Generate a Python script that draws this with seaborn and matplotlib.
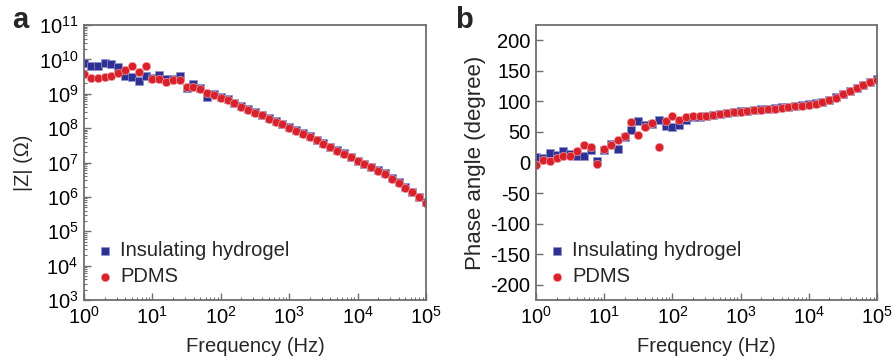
import numpy as np
import pandas as pd
import matplotlib
matplotlib.use("Agg")
import matplotlib.pyplot as plt
import matplotlib.ticker as mticker
import seaborn as sns

# ---- data ----
freq = [1.0, 1.26, 1.58, 2.0, 2.51, 3.16, 3.98, 5.01, 6.31, 7.94,
        10.0, 12.6, 15.8, 20.0, 25.1, 31.6, 39.8, 50.1, 63.1, 79.4,
        100.0, 126, 158, 200, 251, 316, 398, 501, 631, 794,
        1000, 1259, 1585, 1995, 2512, 3162, 3981, 5012, 6310, 7943,
        10000, 12589, 15849, 19953, 25119, 31623, 39811, 50119, 63096, 79433,
        100000]

z_hydrogel = [7.8e9, 6.5e9, 6.5e9, 7.9e9, 7.4e9, 5.9e9, 3.3e9, 3.0e9, 2.34e9, 3.3e9,
              2.8e9, 3.5e9, 2.7e9, 2.6e9, 3.2e9, 1.45e9, 1.9e9, 1.5e9, 7.9e8, 1.0e9,
              7.9e8, 6.9e8, 5.5e8, 4.3e8, 3.55e8, 2.95e8, 2.45e8, 1.95e8, 1.62e8, 1.35e8,
              1.07e8, 8.9e7, 7.2e7, 5.8e7, 4.6e7, 3.6e7, 2.9e7, 2.3e7, 1.86e7, 1.48e7,
              1.12e7, 9.3e6, 7.5e6, 5.9e6, 4.8e6, 3.55e6, 2.63e6, 1.95e6, 1.41e6, 1.02e6,
              6.9e5]
z_pdms = [3.76e9, 2.82e9, 2.82e9, 3.02e9, 3.39e9, 3.89e9, 4.9e9, 6.6e9, 4.37e9, 6.46e9,
          2.69e9, 2.75e9, 2.19e9, 2.45e9, 2.45e9, 1.55e9, 1.62e9, 1.35e9, 1.07e9, 9.3e8,
          7.6e8, 6.6e8, 5.25e8, 4.07e8, 3.39e8, 2.82e8, 2.34e8, 1.86e8, 1.55e8, 1.29e8,
          1.02e8, 8.5e7, 6.9e7, 5.5e7, 4.37e7, 3.47e7, 2.75e7, 2.19e7, 1.78e7, 1.41e7,
          1.07e7, 8.9e6, 7.2e6, 5.6e6, 4.57e6, 3.39e6, 2.51e6, 1.86e6, 1.35e6, 9.8e5,
          6.6e5]

phase_hydrogel = [8.4, 7.3, 15.5, 12.8, 18.2, 14.4, 11.2, 11.2, 19.9, 1.9,
                  20.9, 30.7, 22.6, 41.1, 52.6, 67.3, 61.8, 63.0, 69.4, 60.5,
                  58.0, 60.7, 68.8, 74.8, 74.0, 76.2, 78.0, 79.5, 81.2, 82.6,
                  83.7, 84.8, 86.0, 87.0, 87.6, 88.7, 90.2, 91.4, 92.6, 93.6,
                  95.2, 96.8, 99.5, 102.2, 106.5, 112.0, 117.8, 121.8, 127.2, 132.0,
                  136.4]
phase_pdms = [-3.5, 4.6, 3.0, 7.3, 11.2, 10.1, 18.2, 28.0, 25.3, -2.4,
              22.6, 28.0, 36.2, 42.7, 66.1, 45.4, 58.0, 64.0, 25.3, 67.3,
              75.9, 69.9, 73.7, 75.4, 75.4, 75.9, 77.3, 78.8, 80.5, 81.9,
              83.0, 84.0, 85.2, 86.2, 86.8, 87.9, 89.5, 90.6, 91.8, 92.8,
              94.4, 96.0, 98.8, 101.5, 105.8, 111.3, 117.2, 121.1, 126.5, 131.4,
              135.8]

labels = ["Insulating hydrogel", "PDMS"]

df_h = pd.DataFrame({"freq": freq, "Z": z_hydrogel, "phase": phase_hydrogel})
df_p = pd.DataFrame({"freq": freq, "Z": z_pdms, "phase": phase_pdms})

# ---- style ----
sns.set_theme(style="white")
plt.rcParams["font.family"] = ["Liberation Sans", "DejaVu Sans"]
plt.rcParams["mathtext.default"] = "regular"
plt.rcParams["axes.unicode_minus"] = False

BLUE = "#2e3192"
RED = "#d9212b"
SPINE = "#6e6e6e"
TICK_FS = 14.5
LABEL_FS = 14.5

fig = plt.figure(figsize=(8.96, 3.62), dpi=100)
ax1 = fig.add_axes([84/896, 62/362, 342/896, 275/362])
ax2 = fig.add_axes([536/896, 62/362, 341/896, 275/362])

def style_axes(ax):
    for s in ax.spines.values():
        s.set_color(SPINE)
        s.set_linewidth(1.3)
    ax.tick_params(which="major", direction="in", length=5, width=1.0,
                   labelsize=TICK_FS, pad=4, labelcolor="black",
                   top=False, right=False, left=True, bottom=True)
    ax.tick_params(which="minor", direction="in", length=2.5, width=0.8,
                   top=False, right=False, left=True, bottom=True)
    ax.tick_params(axis="both", which="both", color=SPINE)

def add_legend(ax):
    ax.legend(loc="lower left", bbox_to_anchor=(0.0, 0.0), frameon=False,
              fontsize=LABEL_FS, handlelength=0.7, handletextpad=0.4,
              labelspacing=0.35, borderaxespad=0.3, markerscale=1.0)

# Panel a
sns.scatterplot(data=df_h, x="freq", y="Z", ax=ax1, marker="s", s=26,
                color=BLUE, edgecolor="#8f93cf", linewidth=0.5, label=labels[0])
sns.scatterplot(data=df_p, x="freq", y="Z", ax=ax1, marker="o", s=36,
                color=RED, edgecolor="#ee9aa0", linewidth=0.5, label=labels[1])
ax1.set_xscale("log")
ax1.set_yscale("log")
ax1.set_xlim(1, 1e5)
ax1.set_ylim(1e3, 1e11)
ax1.yaxis.set_major_locator(mticker.LogLocator(base=10, numticks=20))
ax1.yaxis.set_minor_locator(mticker.LogLocator(base=10, subs=np.arange(2, 10), numticks=20))
ax1.xaxis.set_major_locator(mticker.LogLocator(base=10, numticks=20))
ax1.xaxis.set_minor_locator(mticker.LogLocator(base=10, subs=np.arange(2, 10), numticks=20))
ax1.set_xlabel("Frequency (Hz)", fontsize=LABEL_FS, labelpad=7)
ax1.set_ylabel("|Z| (\u03a9)", fontsize=LABEL_FS, labelpad=4)
style_axes(ax1)
add_legend(ax1)

# Panel b
sns.scatterplot(data=df_h, x="freq", y="phase", ax=ax2, marker="s", s=26,
                color=BLUE, edgecolor="#8f93cf", linewidth=0.5, label=labels[0])
sns.scatterplot(data=df_p, x="freq", y="phase", ax=ax2, marker="o", s=36,
                color=RED, edgecolor="#ee9aa0", linewidth=0.5, label=labels[1])
ax2.set_xscale("log")
ax2.set_xlim(1, 1e5)
ax2.set_ylim(-225, 225)
ax2.yaxis.set_major_locator(mticker.MultipleLocator(50))
ax2.xaxis.set_major_locator(mticker.LogLocator(base=10, numticks=20))
ax2.xaxis.set_minor_locator(mticker.LogLocator(base=10, subs=np.arange(2, 10), numticks=20))
ax2.set_xlabel("Frequency (Hz)", fontsize=LABEL_FS, labelpad=7)
ax2.set_ylabel("Phase angle (degree)", fontsize=16, labelpad=3)
style_axes(ax2)
add_legend(ax2)

fig.text(12/896, 1 - 28/362, "a", fontsize=21, fontweight="bold")
fig.text(455/896, 1 - 28/362, "b", fontsize=21, fontweight="bold")

fig.savefig("out.png", dpi=100)
